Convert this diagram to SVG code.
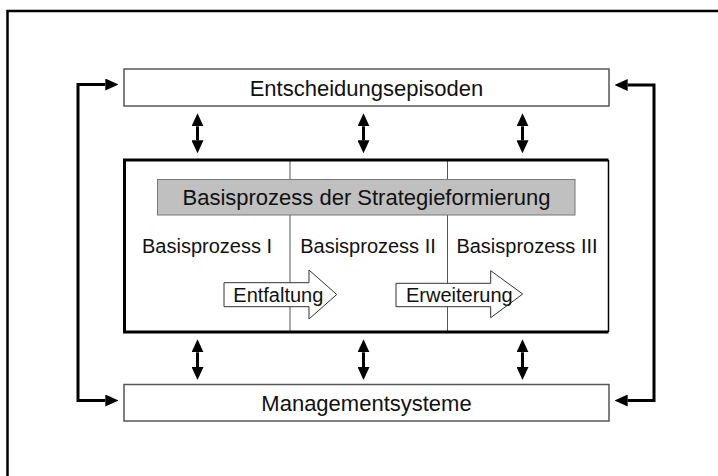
<svg xmlns="http://www.w3.org/2000/svg" width="718" height="476" viewBox="0 0 718 476">
  <style>
    text { font-family: "Liberation Sans", Arial, sans-serif; fill: #111; }
    .lbl22 { font-size: 22px; text-anchor: middle; }
    .lbl20 { font-size: 20px; }
    .mid { text-anchor: middle; }
    .box { fill: #fff; stroke: #555; stroke-width: 1.5; }
    .divider { stroke: #555; stroke-width: 1; }
    .conn { fill: none; stroke: #000; stroke-width: 3; }
    .block { fill: #fff; stroke: #333; stroke-width: 1; }
  </style>
  <defs>
    <marker id="head" markerUnits="userSpaceOnUse" markerWidth="13" markerHeight="12" refX="0" refY="6" orient="auto-start-reverse">
      <path d="M0,0 L13,6 L0,12 Z" fill="#000"/>
    </marker>
  </defs>

  <!-- outer frame (only top and left edges fall inside the page) -->
  <path d="M7.5,476 V11 H718" fill="none" stroke="#000" stroke-width="2.5"/>

  <g id="entscheidungsepisoden">
    <rect class="box" x="124" y="69" width="485" height="37"/>
    <text class="lbl22" x="366.5" y="95.5">Entscheidungsepisoden</text>
  </g>

  <g id="managementsysteme">
    <rect class="box" x="124" y="384.5" width="485" height="36.5"/>
    <text class="lbl22" x="366.5" y="411">Managementsysteme</text>
  </g>

  <g id="basisprozesse">
    <rect x="124.5" y="160" width="484" height="172" fill="#fff"/>
    <line class="divider" x1="290" y1="160" x2="290" y2="332"/>
    <line class="divider" x1="447.5" y1="160" x2="447.5" y2="332"/>
    <path d="M608.5,160 H124.5 V332 H608.5" fill="none" stroke="#000" stroke-width="3"/>
    <line x1="608.5" y1="160" x2="608.5" y2="332" stroke="#000" stroke-width="1.5"/>
    <g id="strategieformierung">
      <rect x="157.5" y="179.5" width="417.5" height="35.5" fill="#c0c0c0" stroke="#777" stroke-width="1"/>
      <text class="lbl22" x="366.5" y="205">Basisprozess der Strategieformierung</text>
    </g>
    <text class="lbl20 mid" x="207" y="253">Basisprozess I</text>
    <text class="lbl20 mid" x="368" y="253">Basisprozess II</text>
    <text class="lbl20 mid" x="527" y="253">Basisprozess III</text>
    <g id="entfaltung">
      <path class="block" d="M224,282.7 H309 V270 L336.7,294.5 L309,319 V306.7 H224 Z"/>
      <text class="lbl20" x="233.3" y="301.5">Entfaltung</text>
    </g>
    <g id="erweiterung">
      <path class="block" d="M396,283.3 H490.7 V270.7 L522.7,294 L490.7,317.7 V306.7 H396 Z"/>
      <text class="lbl20" x="406" y="301.5">Erweiterung</text>
    </g>
  </g>

  <g id="connectors">
    <!-- episodes <-> basic processes -->
    <line class="conn" x1="197.5" y1="126.3" x2="197.5" y2="140.3" marker-start="url(#head)" marker-end="url(#head)"/>
    <line class="conn" x1="363.5" y1="126.3" x2="363.5" y2="140.3" marker-start="url(#head)" marker-end="url(#head)"/>
    <line class="conn" x1="522.5" y1="126.3" x2="522.5" y2="140.3" marker-start="url(#head)" marker-end="url(#head)"/>
    <!-- basic processes <-> management systems -->
    <line class="conn" x1="197.5" y1="352.3" x2="197.5" y2="367" marker-start="url(#head)" marker-end="url(#head)"/>
    <line class="conn" x1="363.5" y1="352.3" x2="363.5" y2="367" marker-start="url(#head)" marker-end="url(#head)"/>
    <line class="conn" x1="522.5" y1="352.3" x2="522.5" y2="367" marker-start="url(#head)" marker-end="url(#head)"/>
    <!-- feedback loops on both sides -->
    <path class="conn" d="M105.3,84.5 H78 V400.5 H105.3" marker-start="url(#head)" marker-end="url(#head)"/>
    <path class="conn" d="M627.7,85 H654 V400.5 H627.7" marker-start="url(#head)" marker-end="url(#head)"/>
  </g>
</svg>
